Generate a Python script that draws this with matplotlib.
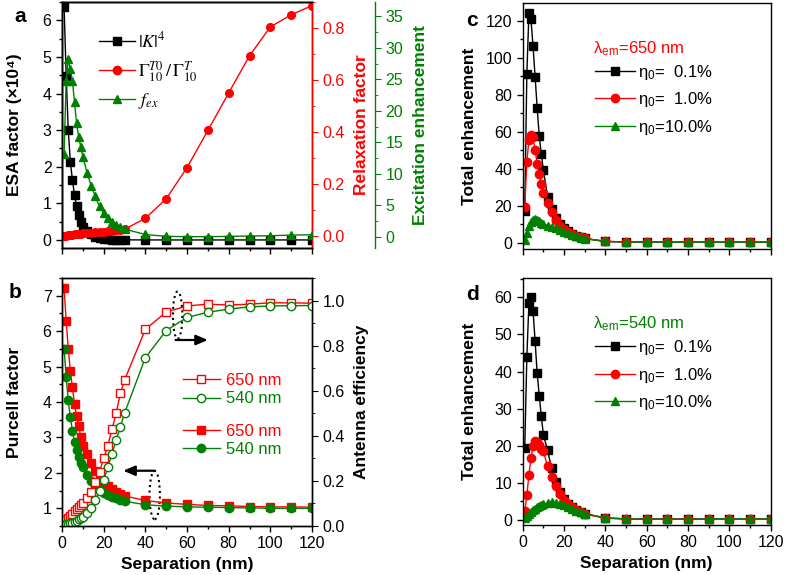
import matplotlib

matplotlib.use("Agg")
import matplotlib.pyplot as plt
from matplotlib.lines import Line2D
from matplotlib.patches import Ellipse
from matplotlib.ticker import MultipleLocator

plt.rcParams["font.family"] = ["Liberation Sans", "DejaVu Sans"]
plt.rcParams["mathtext.fontset"] = "stix"
plt.rcParams["axes.linewidth"] = 1.0

RED = "#ff0000"
GREEN = "#008000"

# Separation grid (nm)
sep = [1, 2, 3, 4, 5, 6, 7, 8, 9, 10, 12, 14, 16, 18, 20, 22, 24, 26, 28, 30,
       40, 50, 60, 70, 80, 90, 100, 110, 120]

# (a) ESA factor |K|^4 (x1e4), relaxation factor, excitation enhancement
esa_k4 = [6.37, 4.49, 3.01, 2.14, 1.64, 1.23, 0.94, 0.68, 0.50, 0.36,
          0.25, 0.15, 0.09, 0.05, 0.03, 0.02, 0.012, 0.008, 0.005, 0.003,
          0.0, 0.0, 0.0, 0.0, 0.0, 0.0, 0.0, 0.0, 0.0]
relax = [0.001, 0.002, 0.003, 0.004, 0.005, 0.006, 0.007, 0.008, 0.009, 0.010,
         0.011, 0.013, 0.014, 0.016, 0.017, 0.019, 0.020, 0.022, 0.024, 0.026,
         0.068, 0.143, 0.263, 0.406, 0.550, 0.693, 0.804, 0.851, 0.886]
f_ex = [13.2, 24.7, 28.2, 26.6, 24.7, 21.4, 18.0, 15.9, 14.3, 12.7,
        10.2, 8.1, 6.4, 4.8, 3.7, 2.9, 2.4, 1.9, 1.5, 1.2,
        0.35, 0.05, 0.0, 0.0, 0.05, 0.1, 0.15, 0.25, 0.3]

# (b) Purcell factor and antenna efficiency
purcell_650 = [7.21, 6.30, 5.51, 4.88, 4.41, 3.94, 3.60, 3.32, 3.02, 2.77,
               2.52, 2.29, 2.06, 1.89, 1.73, 1.63, 1.54, 1.46, 1.40, 1.35,
               1.22, 1.15, 1.11, 1.08, 1.07, 1.05, 1.04, 1.04, 1.03]
purcell_540 = [5.51, 4.71, 4.05, 3.58, 3.19, 2.86, 2.64, 2.45, 2.29, 2.16,
               1.95, 1.76, 1.63, 1.52, 1.44, 1.38, 1.31, 1.28, 1.24, 1.20,
               1.10, 1.06, 1.04, 1.03, 1.02, 1.01, 1.00, 1.00, 1.00]
eff_650 = [0.015, 0.025, 0.035, 0.045, 0.055, 0.065, 0.075, 0.084, 0.092, 0.100,
           0.123, 0.152, 0.196, 0.240, 0.300, 0.356, 0.430, 0.500, 0.588, 0.647,
           0.872, 0.949, 0.976, 0.984, 0.980, 0.984, 0.990, 0.990, 0.988]
eff_540 = [0.005, 0.007, 0.009, 0.012, 0.015, 0.019, 0.024, 0.029, 0.035, 0.042,
           0.058, 0.082, 0.115, 0.155, 0.204, 0.260, 0.320, 0.380, 0.440, 0.500,
           0.746, 0.867, 0.925, 0.948, 0.962, 0.972, 0.976, 0.977, 0.978]

# (c) total enhancement, emission at 650 nm
tot650_01 = [17.0, 91.0, 124.0, 120.7, 106.4, 89.7, 73.0, 57.7, 47.9, 39.3,
             24.9, 18.0, 13.2, 10.0, 8.0, 6.2, 4.8, 3.8, 3.0, 2.3,
             0.7, 0.4, 0.3, 0.3, 0.3, 0.3, 0.3, 0.3, 0.3]
tot650_1 = [19.5, 43.8, 55.5, 58.2, 56.9, 50.1, 42.5, 37.1, 31.5, 27.0,
            21.6, 16.5, 12.3, 9.3, 7.3, 5.8, 4.6, 3.7, 3.0, 2.3,
            0.7, 0.4, 0.3, 0.3, 0.3, 0.3, 0.3, 0.3, 0.3]
tot650_10 = [1.5, 5.5, 9.0, 11.2, 12.3, 12.6, 12.2, 11.5, 10.8, 10.2,
             9.3, 8.5, 7.7, 6.9, 6.0, 5.1, 4.3, 3.5, 2.8, 2.2,
             0.7, 0.4, 0.3, 0.3, 0.3, 0.3, 0.3, 0.3, 0.3]

# (d) total enhancement, emission at 540 nm
tot540_01 = [19.5, 43.8, 58.4, 60.2, 56.4, 48.2, 39.5, 33.5, 28.0, 23.0,
             18.8, 13.9, 10.3, 7.6, 5.7, 4.4, 3.4, 2.7, 2.1, 1.7,
             0.5, 0.3, 0.25, 0.25, 0.25, 0.3, 0.3, 0.3, 0.3]
tot540_1 = [2.4, 6.6, 12.2, 16.6, 20.0, 21.4, 21.0, 20.3, 19.2, 18.5,
            14.5, 11.6, 9.2, 7.1, 5.5, 4.3, 3.4, 2.7, 2.1, 1.6,
            0.5, 0.3, 0.25, 0.25, 0.25, 0.3, 0.3, 0.3, 0.3]
tot540_10 = [0.5, 1.0, 1.6, 2.1, 2.6, 3.0, 3.4, 3.7, 4.0, 4.2,
             4.6, 4.8, 4.7, 4.4, 4.0, 3.5, 3.0, 2.5, 2.1, 1.7,
             0.6, 0.3, 0.25, 0.25, 0.25, 0.3, 0.3, 0.3, 0.3]

TICK_FS = 11.5
LABEL_FS = 12.5
LEG_FS = 12

W, H = 787, 575
fig = plt.figure(figsize=(W / 100, H / 100), dpi=100)


def px_axes(left, top, right, bottom):
    return fig.add_axes([left / W, (H - bottom) / H, (right - left) / W, (bottom - top) / H])


def style(ax, xmaj=20, xmin=10):
    ax.set_xlim(0, 120)
    ax.xaxis.set_major_locator(MultipleLocator(xmaj))
    ax.xaxis.set_minor_locator(MultipleLocator(xmin))
    ax.tick_params(which="both", direction="out", labelsize=TICK_FS, width=1.0)
    ax.tick_params(which="major", length=4)
    ax.tick_params(which="minor", length=2)


ax_a = px_axes(62, 2, 312, 248)
ax_b = px_axes(62, 278, 312, 526)
ax_c = px_axes(522.7, 3, 770.7, 249)
ax_d = px_axes(522.7, 278, 770.7, 525)

mk = dict(markersize=5.5, linewidth=1.0)

# ---- panel a
style(ax_a)
ax_a.plot(sep, esa_k4, "-s", color="k", **mk)
ax_a.set_ylim(-0.22, 6.5)
ax_a.yaxis.set_major_locator(MultipleLocator(1))
ax_a.yaxis.set_minor_locator(MultipleLocator(0.5))
ax_a.tick_params(labelbottom=False, top=False, right=False)
ax_a.set_ylabel("ESA factor (×10⁴)", fontsize=LABEL_FS, fontweight="bold")
ax_a.yaxis.set_label_coords(-0.16, 0.5)

ax_ar = ax_a.twinx()
ax_ar.plot(sep, relax, "-o", color=RED, **mk)
ax_ar.set_ylim(-0.046, 0.90)
ax_ar.yaxis.set_major_locator(MultipleLocator(0.2))
ax_ar.yaxis.set_minor_locator(MultipleLocator(0.1))
ax_ar.yaxis.set_major_formatter(matplotlib.ticker.FormatStrFormatter("%.1f"))
ax_ar.tick_params(which="both", direction="out", labelsize=TICK_FS, colors=RED)
ax_ar.tick_params(which="major", length=4)
ax_ar.tick_params(which="minor", length=2)
ax_ar.spines["right"].set_color(RED)
ax_ar.set_ylabel("Relaxation factor", fontsize=LABEL_FS, fontweight="bold", color=RED)
ax_ar.yaxis.set_label_coords(1.168, 0.5)

ax_ag = ax_a.twinx()
ax_ag.spines["right"].set_position(("outward", 63 * 0.72))
ax_ag.plot(sep, f_ex, "-^", color=GREEN, markersize=6, linewidth=1.0)
ax_ag.set_ylim(-1.8, 37.3)
ax_ag.yaxis.set_major_locator(MultipleLocator(5))
ax_ag.yaxis.set_minor_locator(MultipleLocator(2.5))
ax_ag.tick_params(which="both", direction="out", labelsize=TICK_FS, colors=GREEN)
ax_ag.tick_params(which="major", length=4)
ax_ag.tick_params(which="minor", length=2)
ax_ag.spines["right"].set_color(GREEN)
ax_ag.set_ylabel("Excitation enhancement", fontsize=LABEL_FS, fontweight="bold", color=GREEN)
ax_ag.yaxis.set_label_coords(1.404, 0.5)

handles_a = [
    Line2D([], [], color="k", marker="s", markersize=6, lw=1),
    Line2D([], [], color=RED, marker="o", markersize=6, lw=1),
    Line2D([], [], color=GREEN, marker="^", markersize=6, lw=1),
]
labels_a = [r"$|K|^4$", r"$\Gamma_{10}^{T0}\,/\,\Gamma_{10}^{T}$", r"$f_{ex}$"]
ax_ag.legend(handles_a, labels_a, loc="upper left", bbox_to_anchor=(0.11, 0.918),
             frameon=False, fontsize=13, handlelength=2.0, handletextpad=0.2,
             borderpad=0, labelspacing=0.42)

# ---- panel b
style(ax_b)
ax_b.plot(sep, purcell_650, "-s", color=RED, **mk)
ax_b.plot(sep, purcell_540, "-o", color=GREEN, markersize=6, linewidth=1.0)
ax_b.set_ylim(0.5, 7.5)
ax_b.yaxis.set_major_locator(MultipleLocator(1))
ax_b.yaxis.set_minor_locator(MultipleLocator(0.5))
ax_b.tick_params(top=False, right=False)
ax_b.set_ylabel("Purcell factor", fontsize=LABEL_FS, fontweight="bold")
ax_b.yaxis.set_label_coords(-0.16, 0.5)
ax_b.set_xlabel("Separation (nm)", fontsize=LABEL_FS, fontweight="bold")
ax_b.xaxis.set_label_coords(0.5, -0.125)

ax_br = ax_b.twinx()
ax_br.plot(sep, eff_650, "-s", color=RED, mfc="white", **mk)
ax_br.plot(sep, eff_540, "-o", color=GREEN, mfc="white", markersize=6, linewidth=1.0)
ax_br.set_ylim(0, 1.1)
ax_br.yaxis.set_major_locator(MultipleLocator(0.2))
ax_br.yaxis.set_minor_locator(MultipleLocator(0.1))
ax_br.yaxis.set_major_formatter(matplotlib.ticker.FormatStrFormatter("%.1f"))
ax_br.tick_params(which="both", direction="out", labelsize=TICK_FS)
ax_br.tick_params(which="major", length=4)
ax_br.tick_params(which="minor", length=2)
ax_br.set_ylabel("Antenna efficiency", fontsize=LABEL_FS, fontweight="bold")
ax_br.yaxis.set_label_coords(1.168, 0.5)

ax_br.add_patch(Ellipse((55.5, 0.935), width=4.5, height=0.21, fill=False,
                        ls=":", lw=1.5, color="k", transform=ax_br.transData))
ax_b.add_patch(Ellipse((44.5, 1.37), width=5.0, height=1.36, fill=False,
                       ls=":", lw=1.5, color="k", transform=ax_b.transData))
arrow = dict(arrowstyle="-|>,head_length=0.7,head_width=0.3", lw=1.6, color="k",
             shrinkA=0, shrinkB=0)
ax_br.annotate("", xy=(70, 0.825), xytext=(54.5, 0.825), arrowprops=arrow)
ax_b.annotate("", xy=(29.4, 2.06), xytext=(44.6, 2.06), arrowprops=arrow)

leg_open = ax_br.legend(
    [Line2D([], [], color=RED, marker="s", mfc="white", markersize=6, lw=1),
     Line2D([], [], color=GREEN, marker="o", mfc="white", markersize=6, lw=1)],
    ["650 nm", "540 nm"], loc="upper left", bbox_to_anchor=(0.45, 0.65),
    frameon=False, fontsize=LEG_FS, handlelength=2.2, handletextpad=0.4,
    borderpad=0, labelspacing=0.2, labelcolor=[RED, GREEN])
ax_br.add_artist(leg_open)
ax_br.legend(
    [Line2D([], [], color=RED, marker="s", markersize=6, lw=1),
     Line2D([], [], color=GREEN, marker="o", markersize=6, lw=1)],
    ["650 nm", "540 nm"], loc="upper left", bbox_to_anchor=(0.45, 0.446),
    frameon=False, fontsize=LEG_FS, handlelength=2.2, handletextpad=0.4,
    borderpad=0, labelspacing=0.2, labelcolor=[RED, GREEN])

# ---- panels c and d
eta_labels = ["η$_\\mathregular{0}$=  0.1%", "η$_\\mathregular{0}$=  1.0%",
              "η$_\\mathregular{0}$=10.0%"]


def total_panel(ax, s01, s1, s10, ylim, ymaj, ymin, lam_text, lam_color):
    style(ax)
    ax.plot(sep, s01, "-s", color="k", **mk)
    ax.plot(sep, s1, "-o", color=RED, markersize=6, linewidth=1.0)
    ax.plot(sep, s10, "-^", color=GREEN, markersize=6, linewidth=1.0)
    ax.set_ylim(*ylim)
    ax.yaxis.set_major_locator(MultipleLocator(ymaj))
    ax.yaxis.set_minor_locator(MultipleLocator(ymin))
    ax.tick_params(which="both", top=False, right=False)
    ax.set_ylabel("Total enhancement", fontsize=LABEL_FS, fontweight="bold")
    ax.yaxis.set_label_coords(-0.184, 0.5)
    ax.text(0.285, 0.815, lam_text, transform=ax.transAxes, color=lam_color,
            fontsize=LEG_FS, va="center", ha="left")
    ax.legend(
        [Line2D([], [], color="k", marker="s", markersize=6, lw=1),
         Line2D([], [], color=RED, marker="o", markersize=6, lw=1),
         Line2D([], [], color=GREEN, marker="^", markersize=6, lw=1)],
        eta_labels, loc="upper left", bbox_to_anchor=(0.258, 0.79),
        frameon=False, fontsize=LEG_FS, handlelength=2.4, handletextpad=0.2,
        borderpad=0, labelspacing=0.5)


total_panel(ax_c, tot650_01, tot650_1, tot650_10, (-3.4, 129.6), 20, 10,
            "λ$_\\mathregular{em}$=650 nm", RED)
ax_c.tick_params(labelbottom=False)
total_panel(ax_d, tot540_01, tot540_1, tot540_10, (-1.35, 65.2), 10, 5,
            "λ$_\\mathregular{em}$=540 nm", GREEN)
ax_d.set_xlabel("Separation (nm)", fontsize=LABEL_FS, fontweight="bold")
ax_d.xaxis.set_label_coords(0.5, -0.125)

for letter, (x, y) in {"a": (20, 17), "b": (15, 293), "c": (472, 20), "d": (472, 295)}.items():
    fig.text(x / W, 1 - y / H, letter, fontsize=15, fontweight="bold",
             ha="center", va="center")

fig.savefig("out.png", dpi=100)
